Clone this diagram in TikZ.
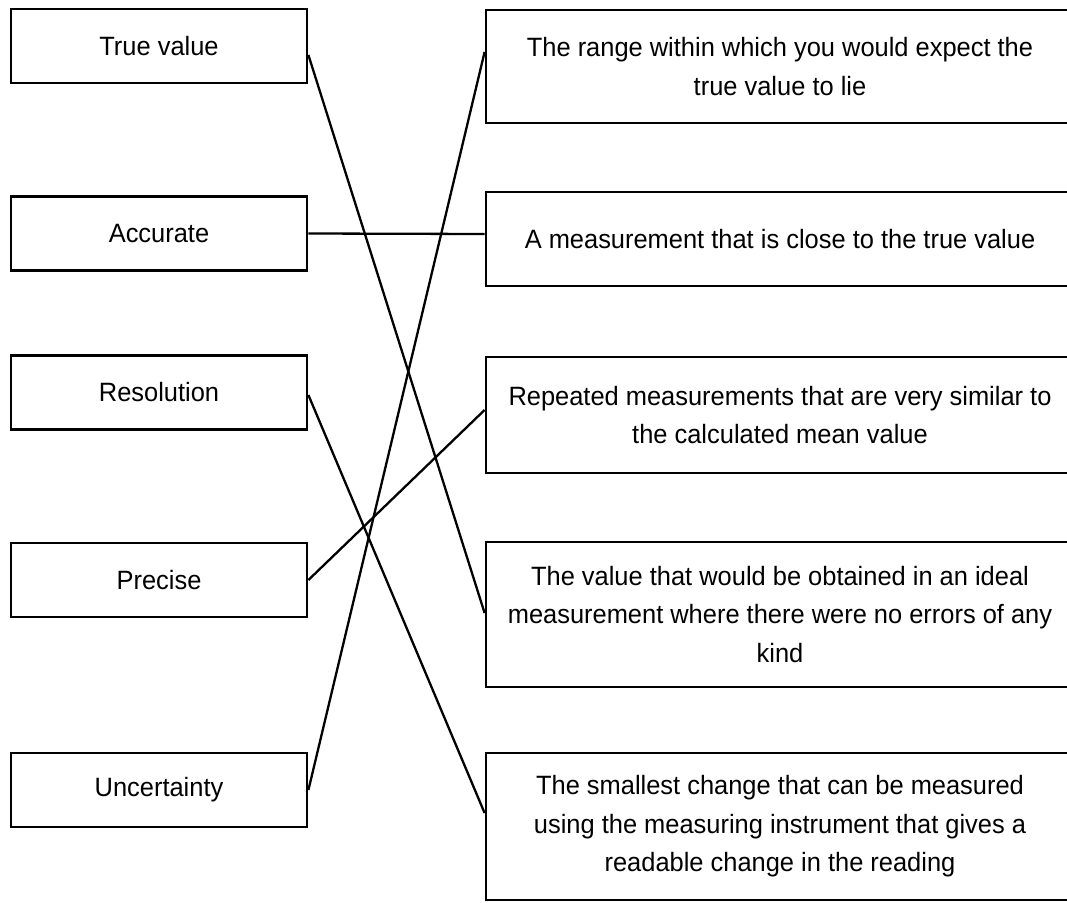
\documentclass[tikz,border=0pt]{standalone}
\usepackage{fontspec}
\setmainfont[FakeStretch=0.96]{Liberation Sans}
\begin{document}
\begin{tikzpicture}[x=1pt,y=-1pt,
  every node/.style={font=\fontsize{26.5}{38.5}\selectfont, align=center, inner sep=0pt},
  lbox/.style={draw, line width=2.8pt, minimum width=296pt, minimum height=74pt},
  rbox/.style={draw, line width=2.8pt, minimum width=588pt},
  link/.style={line width=2.3pt}]
\useasboundingbox (0,0) rectangle (1067,902);
\clip (0,0) rectangle (1067,902);
\fill[white] (0,0) rectangle (1067,902);
% left column
\node[lbox] (tv)  at (159,46)    {True value};
\node[lbox] (acc) at (159,233.5) {Accurate};
\node[lbox] (res) at (159,392.5) {Resolution};
\node[lbox] (pre) at (159,580)   {Precise};
\node[lbox] (unc) at (159,790)   {Uncertainty};
% right column
\node[rbox, minimum height=113pt] (d1) at (780,66.5)
  {The range within which you would expect the\\true value to lie};
\node[rbox, minimum height=94pt] (d2) at (780,239)
  {A measurement that is close to the true value};
\node[rbox, minimum height=116pt] (d3) at (780,415)
  {Repeated measurements that are very similar to\\the calculated mean value};
\node[rbox, minimum height=145pt] (d4) at (780,614.5)
  {The value that would be obtained in an ideal\\measurement where there were no errors of any\\kind};
\node[rbox, minimum height=147pt] (d5) at (780,826.5)
  {The smallest change that can be measured\\using the measuring instrument that gives a\\readable change in the reading};
% connectors
\draw[link] ([yshift=-9pt]tv.east) -- ([yshift=1.5pt]d4.west);
\draw[link] (acc.east) -- ([yshift=5pt]d2.west);
\draw[link] ([yshift=-2.5pt]res.east) -- ([yshift=13.5pt]d5.west);
\draw[link] (pre.east) -- ([yshift=5pt]d3.west);
\draw[link] (unc.east) -- ([yshift=14.5pt]d1.west);
\end{tikzpicture}
\end{document}
